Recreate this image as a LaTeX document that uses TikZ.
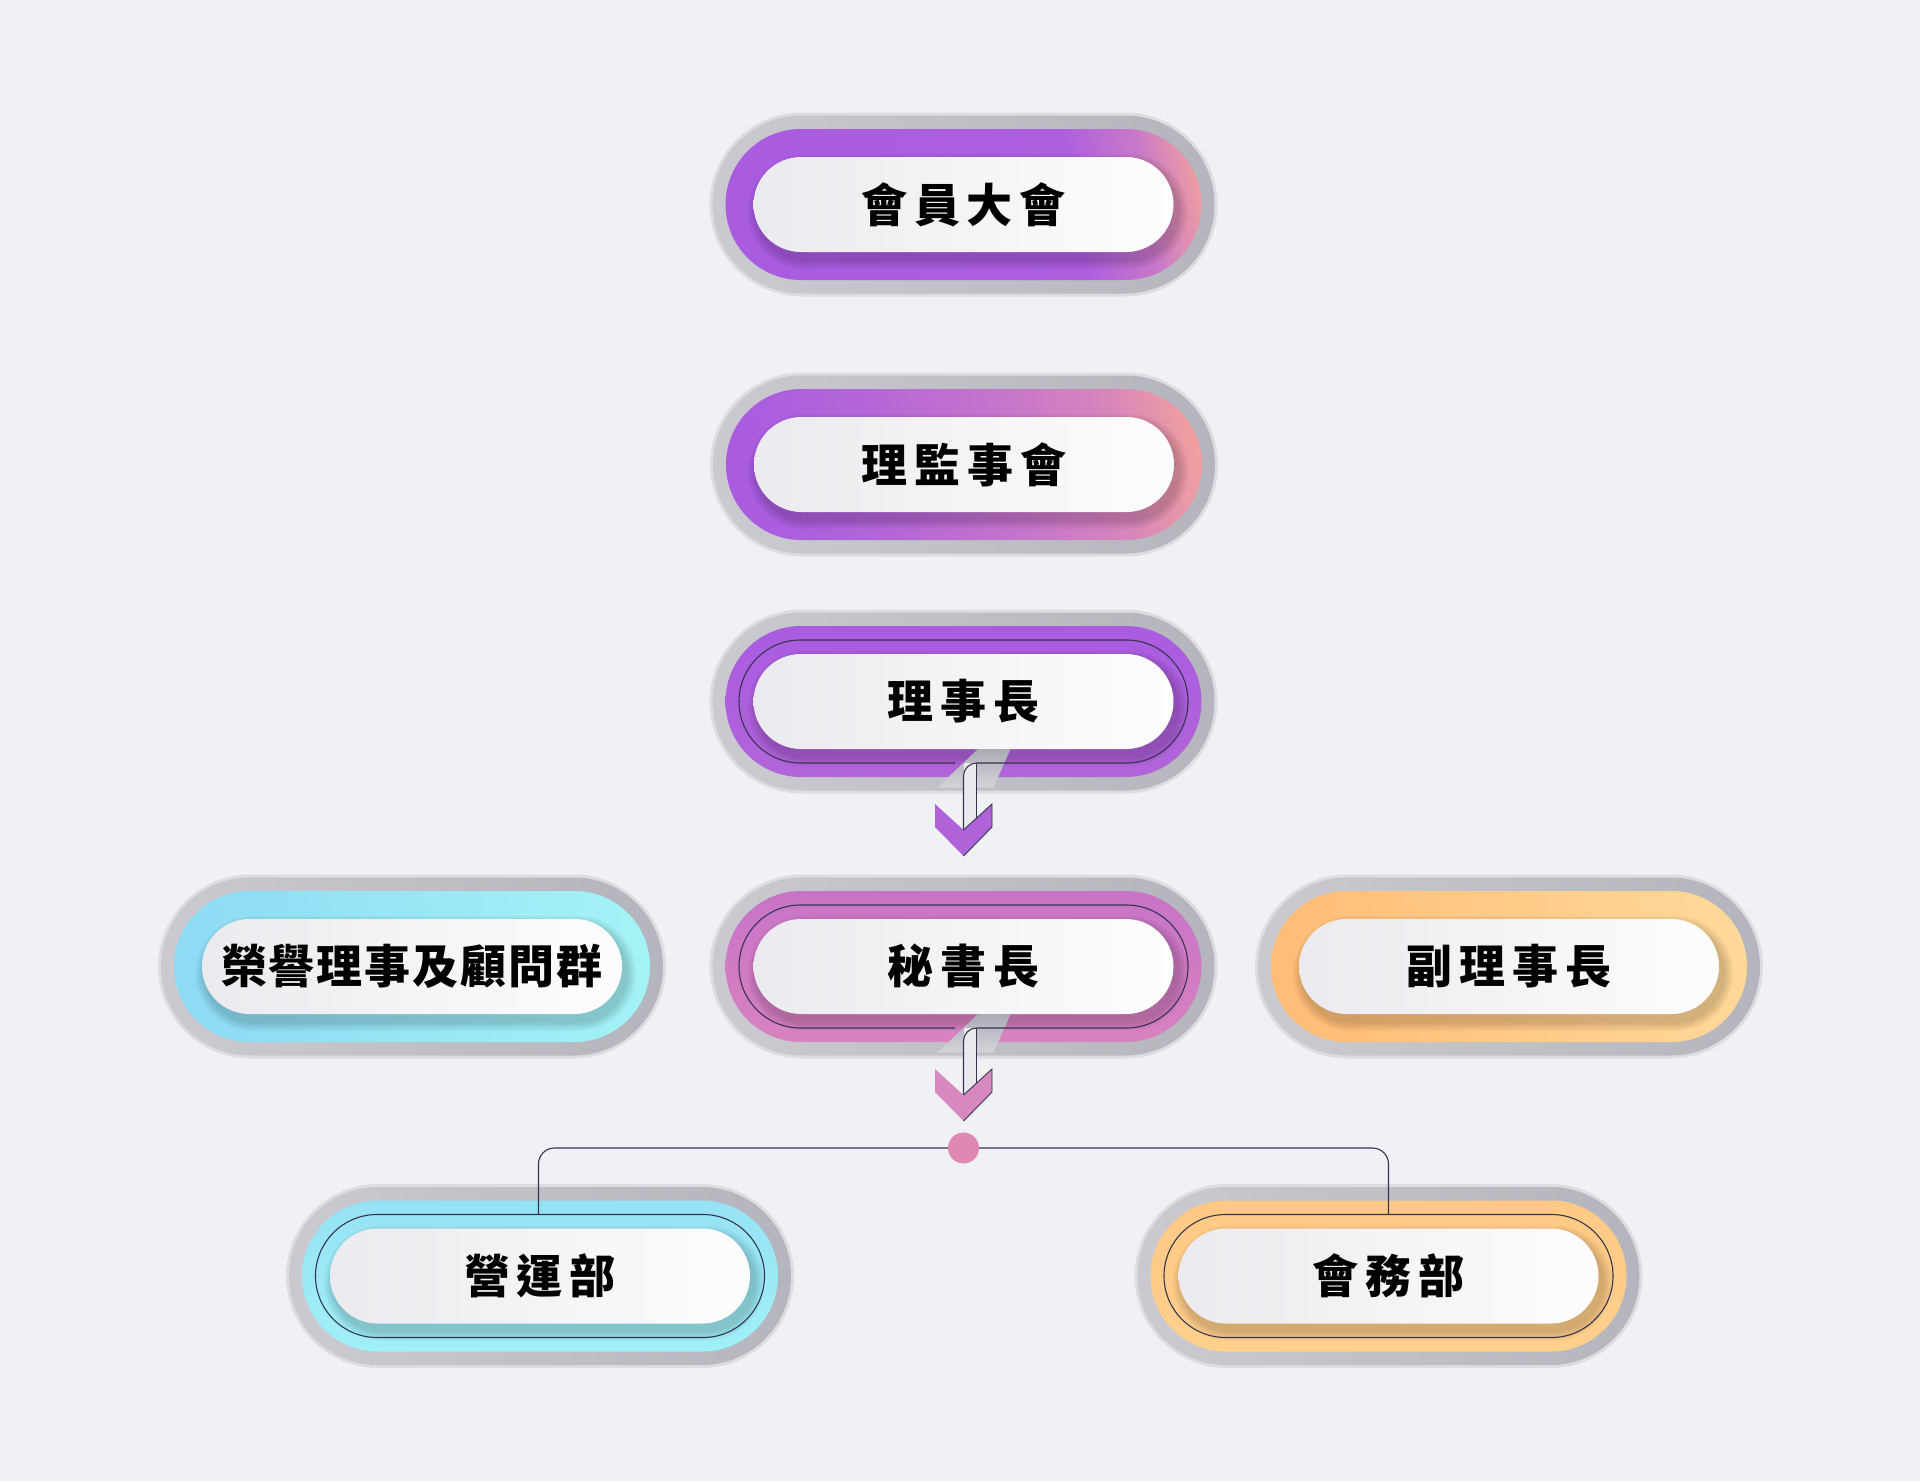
\documentclass[tikz,border=0pt]{standalone}
\usepackage{fontspec}
\newfontfamily\cjkfont{Noto Sans CJK TC}
\usetikzlibrary{calc}
\definecolor{bg}{HTML}{F0F1F5}
\definecolor{haloL}{HTML}{C9C9CF}
\definecolor{haloR}{HTML}{B4B4BC}
\definecolor{fringe}{HTML}{CDCDD3}
\definecolor{wL}{HTML}{EBEBEF}
\definecolor{wR}{HTML}{FDFDFE}
\definecolor{pA}{HTML}{A95CE0}
\definecolor{pA2}{HTML}{AD5FDE}
\definecolor{pB}{HTML}{C878CA}
\definecolor{pC}{HTML}{F5A39A}
\definecolor{qB}{HTML}{B466D8}
\definecolor{qC}{HTML}{C674CC}
\definecolor{qD}{HTML}{D786BC}
\definecolor{cyL}{HTML}{8EDBF4}
\definecolor{cyR}{HTML}{A4F3F6}
\definecolor{orL}{HTML}{FFBD78}
\definecolor{orR}{HTML}{FFD99A}
\definecolor{line}{HTML}{34344F}
\definecolor{chevA}{HTML}{B062D8}
\definecolor{chevB}{HTML}{D888C0}
\definecolor{dotpink}{HTML}{E187B6}
\definecolor{slotT}{HTML}{ABABB4}
\definecolor{slotB}{HTML}{D4D4DA}
\definecolor{tube}{HTML}{E9E9EE}
\pgfdeclarehorizontalshading{ringoneS}{100bp}{color(0bp)=(pA); color(25bp)=(pA); color(63bp)=(pA2); color(71bp)=(pB); color(79bp)=(pC); color(100bp)=(pC)}
\pgfdeclarehorizontalshading{ringtwoS}{100bp}{color(0bp)=(pA); color(25bp)=(pA); color(40bp)=(qB); color(55bp)=(qC); color(68bp)=(qD); color(79bp)=(pC); color(100bp)=(pC)}
\pgfdeclarehorizontalshading{cyanS}{100bp}{color(0bp)=(cyL); color(25bp)=(cyL); color(79bp)=(cyR); color(100bp)=(cyR)}
\pgfdeclarehorizontalshading{orangeS}{100bp}{color(0bp)=(orL); color(25bp)=(orL); color(79bp)=(orR); color(100bp)=(orR)}
\pgfdeclarehorizontalshading{haloS}{100bp}{color(0bp)=(haloL); color(25bp)=(haloL); color(79bp)=(haloR); color(100bp)=(haloR)}
\tikzset{
  ringone/.style={shading=ringoneS, shading angle=10},
  ringtwo/.style={shading=ringtwoS, shading angle=10},
  ringthree/.style={top color=pA, bottom color=qB!80!pA},
  ringfour/.style={top color=HTMLc774c8, bottom color=HTMLd882c0},
  ringcyan/.style={shading=cyanS, shading angle=12},
  ringorange/.style={shading=orangeS, shading angle=12},
  ringcyantwo/.style={top color=HTMLc96e2f5, bottom color=HTMLca0f0f7},
  ringorangetwo/.style={top color=HTMLcffc985, bottom color=HTMLcffd08c},
  halo/.style={shading=haloS, shading angle=10, rounded corners=89pt},
  whitepill/.style={shape=rectangle, rounded corners=47.5pt, minimum width=420pt,
    minimum height=95pt, inner sep=0pt, left color=wL, right color=wR,
    text=black, font=\cjkfont\bfseries\fontsize{46}{46}\selectfont},
  conn/.style={draw=line, line width=1.1pt},
}
\definecolor{HTMLc774c8}{HTML}{C774C8}
\definecolor{HTMLd882c0}{HTML}{D882C0}
\definecolor{HTMLc96e2f5}{HTML}{96E2F5}
\definecolor{HTMLca0f0f7}{HTML}{A0F0F7}
\definecolor{HTMLcffc985}{HTML}{FFC985}
\definecolor{HTMLcffd08c}{HTML}{FFD08C}
% #1 node name, #2 x, #3 y, #4 ring style, #5 text
\newcommand{\orgpill}[5]{%
  \begin{scope}[shift={(#2,#3)}]
    \fill[fringe, opacity=0.55, rounded corners=92pt] (-254,-92) rectangle (254,92);
    \shade[halo] (-251,-89) rectangle (251,89);
    \shade[#4, rounded corners=75.5pt] (-238,-75.5) rectangle (238,75.5);
    \foreach \k [evaluate=\k as \rr using 47.5+2*\k] in {1,...,5}
      \fill[black, opacity=0.035, rounded corners=\rr pt]
        ({-210-2*\k+4},{-47.5-2*\k+7}) rectangle ({210+2*\k+4},{47.5+2*\k+7});
  \end{scope}
  \node[whitepill] (#1) at (#2,#3) {#5};
}
% open outline with drop connector under node #1, chevron colour #2
\newcommand{\orgdrop}[2]{%
  \begin{scope}[shift={(#1.center)}]
    \shade[top color=slotT, bottom color=slotB] (14.5,47.5) -- (47,47.5) -- (30,86) -- (-26,86) -- cycle;
    \draw[conn, rounded corners=61.5pt] (-8.5,61.5) -- (-224.5,61.5) -- (-224.5,-61.5)
      -- (224.5,-61.5) -- (224.5,61.5) -- (13.2,61.5);
    \fill[tube] (0,61.5) rectangle (13.2,128.5);
    \draw[conn] (13.2,61.5) -- (13.2,116.5);
    \draw[conn, rounded corners=13pt] (0,128.5) -- (0,61.5) -- (13.2,61.5);
    \fill[#2] (-28.5,102.5) -- (0,128.5) -- (28.5,102.5) -- (28.5,125.5) -- (0,154.5) -- (-28.5,125.5) -- cycle;
    \draw[conn, line width=0.9pt, line join=miter] (0,128.5) -- (28.5,102.5) -- (28.5,125.5) -- (0,154.5);
  \end{scope}
}
\begin{document}
\begin{tikzpicture}[x=1pt, y=-1pt]
  \useasboundingbox (0,0) rectangle (1920,1481);
  \fill[bg] (0,0) rectangle (1920,1481);

  \orgpill{b1}{963.5}{204.5}{ringone}{會\kern7pt 員\kern7pt 大\kern7pt 會}
  \orgpill{b2}{964}{464.5}{ringtwo}{理\kern7pt 監\kern7pt 事\kern7pt 會}
  \orgpill{b3}{963.5}{701.5}{ringthree}{理\kern7pt 事\kern7pt 長}
  \orgpill{b4}{963.5}{966.5}{ringfour}{秘\kern7pt 書\kern7pt 長}
  \orgpill{b5}{412}{966.5}{ringcyan}{榮\kern2pt 譽\kern2pt 理\kern2pt 事\kern2pt 及\kern2pt 顧\kern2pt 問\kern2pt 群}
  \orgpill{b6}{1509}{966.5}{ringorange}{副\kern7pt 理\kern7pt 事\kern7pt 長}
  \orgpill{b7}{540}{1276}{ringcyantwo}{營\kern7pt 運\kern7pt 部}
  \orgpill{b8}{1388.5}{1276}{ringorangetwo}{會\kern7pt 務\kern7pt 部}

  \orgdrop{b3}{chevA}
  \orgdrop{b4}{chevB}

  \draw[conn, rounded corners=61.5pt] ($(b7.center)+(-224.5,-61.5)$) rectangle ($(b7.center)+(224.5,61.5)$);
  \draw[conn, rounded corners=61.5pt] ($(b8.center)+(-224.5,-61.5)$) rectangle ($(b8.center)+(224.5,61.5)$);

  \node[circle, fill=dotpink, minimum size=31pt, inner sep=0pt] (hub) at (963.5,1148) {};
  \coordinate (t7) at ($(b7.north)+(-1.5,-14)$);
  \coordinate (t8) at ($(b8.north)+(0,-14)$);
  \draw[conn, rounded corners=16pt] (hub.west) -| (t7);
  \draw[conn, rounded corners=16pt] (hub.east) -| (t8);
\end{tikzpicture}
\end{document}
